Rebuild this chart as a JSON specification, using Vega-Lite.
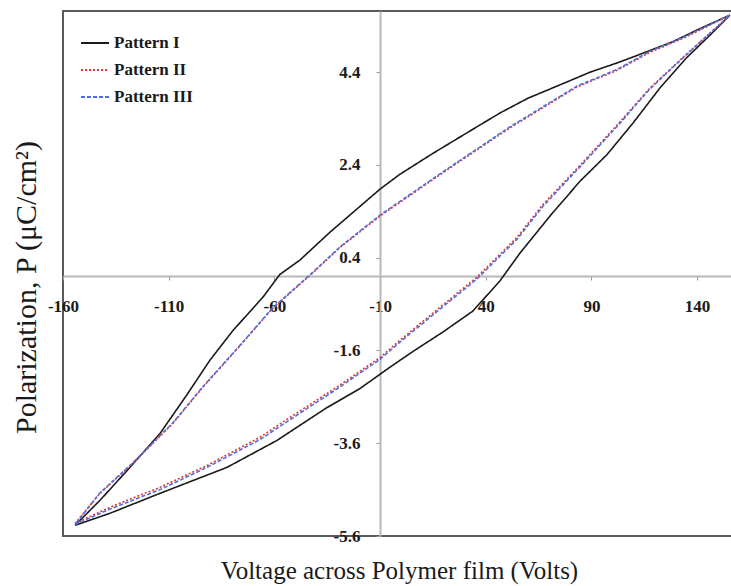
{
  "$schema": "https://vega.github.io/schema/vega-lite/v6.json",
  "width": 669,
  "height": 525,
  "autosize": {"type": "none"},
  "padding": {"left": 63, "top": 11, "right": 0, "bottom": 50},
  "background": "white",
  "config": {
    "font": "Liberation Serif",
    "view": {"stroke": "#5a5a5a", "strokeWidth": 2},
    "legend": {
      "orient": "none",
      "legendX": 17,
      "legendY": 17,
      "padding": 0,
      "labelFont": "Liberation Serif",
      "labelFontSize": 17,
      "labelFontWeight": "bold",
      "labelColor": "#1a1a1a",
      "labelOffset": 4,
      "symbolType": "stroke",
      "symbolSize": 784,
      "symbolStrokeWidth": 2,
      "rowPadding": 4
    }
  },
  "data": {
    "values": [
      {"series": "Pattern I", "i": 1, "voltage": -154.3, "polarization": -5.37},
      {"series": "Pattern I", "i": 2, "voltage": -137.8, "polarization": -5.11},
      {"series": "Pattern I", "i": 3, "voltage": -114.1, "polarization": -4.68},
      {"series": "Pattern I", "i": 4, "voltage": -82.4, "polarization": -4.12},
      {"series": "Pattern I", "i": 5, "voltage": -58.8, "polarization": -3.54},
      {"series": "Pattern I", "i": 6, "voltage": -35.1, "polarization": -2.83},
      {"series": "Pattern I", "i": 7, "voltage": -19.5, "polarization": -2.42},
      {"series": "Pattern I", "i": 8, "voltage": -5.3, "polarization": -1.96},
      {"series": "Pattern I", "i": 9, "voltage": 5.6, "polarization": -1.62},
      {"series": "Pattern I", "i": 10, "voltage": 19.8, "polarization": -1.2},
      {"series": "Pattern I", "i": 11, "voltage": 33.9, "polarization": -0.75},
      {"series": "Pattern I", "i": 12, "voltage": 46.7, "polarization": -0.1},
      {"series": "Pattern I", "i": 13, "voltage": 56.2, "polarization": 0.5},
      {"series": "Pattern I", "i": 14, "voltage": 70.4, "polarization": 1.3},
      {"series": "Pattern I", "i": 15, "voltage": 84.6, "polarization": 2.05},
      {"series": "Pattern I", "i": 16, "voltage": 97.3, "polarization": 2.62},
      {"series": "Pattern I", "i": 17, "voltage": 109.6, "polarization": 3.3},
      {"series": "Pattern I", "i": 18, "voltage": 122.4, "polarization": 4.06},
      {"series": "Pattern I", "i": 19, "voltage": 135.2, "polarization": 4.72},
      {"series": "Pattern I", "i": 20, "voltage": 146.1, "polarization": 5.2},
      {"series": "Pattern I", "i": 21, "voltage": 155.5, "polarization": 5.63},
      {"series": "Pattern I", "i": 22, "voltage": 141.3, "polarization": 5.34},
      {"series": "Pattern I", "i": 23, "voltage": 128.6, "polarization": 5.06},
      {"series": "Pattern I", "i": 24, "voltage": 111.5, "polarization": 4.76},
      {"series": "Pattern I", "i": 25, "voltage": 102.1, "polarization": 4.6},
      {"series": "Pattern I", "i": 26, "voltage": 89.3, "polarization": 4.4},
      {"series": "Pattern I", "i": 27, "voltage": 78.4, "polarization": 4.19},
      {"series": "Pattern I", "i": 28, "voltage": 60.0, "polarization": 3.84},
      {"series": "Pattern I", "i": 29, "voltage": 46.7, "polarization": 3.52},
      {"series": "Pattern I", "i": 30, "voltage": 33.9, "polarization": 3.17},
      {"series": "Pattern I", "i": 31, "voltage": 15.0, "polarization": 2.65},
      {"series": "Pattern I", "i": 32, "voltage": -0.6, "polarization": 2.2},
      {"series": "Pattern I", "i": 33, "voltage": -10.0, "polarization": 1.88},
      {"series": "Pattern I", "i": 34, "voltage": -33.7, "polarization": 0.95},
      {"series": "Pattern I", "i": 35, "voltage": -47.9, "polarization": 0.35},
      {"series": "Pattern I", "i": 36, "voltage": -57.4, "polarization": 0.04},
      {"series": "Pattern I", "i": 37, "voltage": -65.4, "polarization": -0.45},
      {"series": "Pattern I", "i": 38, "voltage": -79.6, "polarization": -1.17},
      {"series": "Pattern I", "i": 39, "voltage": -90.5, "polarization": -1.81},
      {"series": "Pattern I", "i": 40, "voltage": -101.3, "polarization": -2.55},
      {"series": "Pattern I", "i": 41, "voltage": -114.1, "polarization": -3.39},
      {"series": "Pattern I", "i": 42, "voltage": -129.7, "polarization": -4.19},
      {"series": "Pattern I", "i": 43, "voltage": -142.5, "polarization": -4.83},
      {"series": "Pattern I", "i": 44, "voltage": -154.3, "polarization": -5.37},

      {"series": "Pattern II", "i": 1, "voltage": -154.3, "polarization": -5.33},
      {"series": "Pattern II", "i": 2, "voltage": -137.8, "polarization": -4.98},
      {"series": "Pattern II", "i": 3, "voltage": -114.1, "polarization": -4.55},
      {"series": "Pattern II", "i": 4, "voltage": -91.9, "polarization": -4.08},
      {"series": "Pattern II", "i": 5, "voltage": -66.8, "polarization": -3.47},
      {"series": "Pattern II", "i": 6, "voltage": -51.2, "polarization": -3.0},
      {"series": "Pattern II", "i": 7, "voltage": -30.4, "polarization": -2.39},
      {"series": "Pattern II", "i": 8, "voltage": -10.0, "polarization": -1.75},
      {"series": "Pattern II", "i": 9, "voltage": -0.6, "polarization": -1.38},
      {"series": "Pattern II", "i": 10, "voltage": 18.3, "polarization": -0.67},
      {"series": "Pattern II", "i": 11, "voltage": 35.8, "polarization": -0.02},
      {"series": "Pattern II", "i": 12, "voltage": 54.8, "polarization": 0.84},
      {"series": "Pattern II", "i": 13, "voltage": 67.1, "polarization": 1.55},
      {"series": "Pattern II", "i": 14, "voltage": 86.0, "polarization": 2.46},
      {"series": "Pattern II", "i": 15, "voltage": 102.1, "polarization": 3.26},
      {"series": "Pattern II", "i": 16, "voltage": 117.7, "polarization": 4.06},
      {"series": "Pattern II", "i": 17, "voltage": 133.3, "polarization": 4.72},
      {"series": "Pattern II", "i": 18, "voltage": 155.5, "polarization": 5.63},
      {"series": "Pattern II", "i": 19, "voltage": 133.3, "polarization": 5.13},
      {"series": "Pattern II", "i": 20, "voltage": 117.7, "polarization": 4.83},
      {"series": "Pattern II", "i": 21, "voltage": 102.1, "polarization": 4.44},
      {"series": "Pattern II", "i": 22, "voltage": 83.1, "polarization": 4.08},
      {"series": "Pattern II", "i": 23, "voltage": 51.4, "polarization": 3.2},
      {"series": "Pattern II", "i": 24, "voltage": 21.6, "polarization": 2.29},
      {"series": "Pattern II", "i": 25, "voltage": -10.0, "polarization": 1.3},
      {"series": "Pattern II", "i": 26, "voltage": -29.0, "polarization": 0.62},
      {"series": "Pattern II", "i": 27, "voltage": -41.7, "polarization": 0.08},
      {"series": "Pattern II", "i": 28, "voltage": -61.0, "polarization": -0.7},
      {"series": "Pattern II", "i": 29, "voltage": -76.3, "polarization": -1.5},
      {"series": "Pattern II", "i": 30, "voltage": -93.8, "polarization": -2.39},
      {"series": "Pattern II", "i": 31, "voltage": -108.0, "polarization": -3.17},
      {"series": "Pattern II", "i": 32, "voltage": -126.9, "polarization": -4.03},
      {"series": "Pattern II", "i": 33, "voltage": -142.5, "polarization": -4.68},
      {"series": "Pattern II", "i": 34, "voltage": -154.3, "polarization": -5.33},

      {"series": "Pattern III", "i": 1, "voltage": -154.3, "polarization": -5.35},
      {"series": "Pattern III", "i": 2, "voltage": -137.8, "polarization": -5.02},
      {"series": "Pattern III", "i": 3, "voltage": -114.1, "polarization": -4.6},
      {"series": "Pattern III", "i": 4, "voltage": -91.9, "polarization": -4.12},
      {"series": "Pattern III", "i": 5, "voltage": -66.8, "polarization": -3.52},
      {"series": "Pattern III", "i": 6, "voltage": -51.2, "polarization": -3.05},
      {"series": "Pattern III", "i": 7, "voltage": -30.4, "polarization": -2.43},
      {"series": "Pattern III", "i": 8, "voltage": -10.0, "polarization": -1.79},
      {"series": "Pattern III", "i": 9, "voltage": -0.6, "polarization": -1.42},
      {"series": "Pattern III", "i": 10, "voltage": 18.3, "polarization": -0.71},
      {"series": "Pattern III", "i": 11, "voltage": 35.8, "polarization": -0.06},
      {"series": "Pattern III", "i": 12, "voltage": 54.8, "polarization": 0.8},
      {"series": "Pattern III", "i": 13, "voltage": 67.1, "polarization": 1.51},
      {"series": "Pattern III", "i": 14, "voltage": 86.0, "polarization": 2.43},
      {"series": "Pattern III", "i": 15, "voltage": 102.1, "polarization": 3.23},
      {"series": "Pattern III", "i": 16, "voltage": 117.7, "polarization": 4.04},
      {"series": "Pattern III", "i": 17, "voltage": 133.3, "polarization": 4.71},
      {"series": "Pattern III", "i": 18, "voltage": 155.5, "polarization": 5.63},
      {"series": "Pattern III", "i": 19, "voltage": 133.3, "polarization": 5.15},
      {"series": "Pattern III", "i": 20, "voltage": 117.7, "polarization": 4.85},
      {"series": "Pattern III", "i": 21, "voltage": 102.1, "polarization": 4.46},
      {"series": "Pattern III", "i": 22, "voltage": 83.1, "polarization": 4.1},
      {"series": "Pattern III", "i": 23, "voltage": 51.4, "polarization": 3.22},
      {"series": "Pattern III", "i": 24, "voltage": 21.6, "polarization": 2.31},
      {"series": "Pattern III", "i": 25, "voltage": -10.0, "polarization": 1.32},
      {"series": "Pattern III", "i": 26, "voltage": -29.0, "polarization": 0.63},
      {"series": "Pattern III", "i": 27, "voltage": -41.7, "polarization": 0.09},
      {"series": "Pattern III", "i": 28, "voltage": -61.0, "polarization": -0.69},
      {"series": "Pattern III", "i": 29, "voltage": -76.3, "polarization": -1.49},
      {"series": "Pattern III", "i": 30, "voltage": -93.8, "polarization": -2.38},
      {"series": "Pattern III", "i": 31, "voltage": -108.0, "polarization": -3.16},
      {"series": "Pattern III", "i": 32, "voltage": -126.9, "polarization": -4.02},
      {"series": "Pattern III", "i": 33, "voltage": -142.5, "polarization": -4.67},
      {"series": "Pattern III", "i": 34, "voltage": -154.3, "polarization": -5.35}
    ]
  },
  "mark": {"type": "line", "strokeWidth": 1.6, "clip": true},
  "encoding": {
    "x": {
      "field": "voltage",
      "type": "quantitative",
      "scale": {"domain": [-160, 156.5], "nice": false, "zero": false},
      "axis": {
        "title": "Voltage across Polymer film (Volts)",
        "values": [-160, -110, -60, -10, 40, 90, 140],
        "labelExpr": "(datum.value < 0 ? '-' : '') + abs(datum.value)",
        "offset": -260,
        "grid": false,
        "domainColor": "#b8b8b8",
        "domainWidth": 2,
        "tickColor": "#999999",
        "tickSize": 4,
        "tickWidth": 1,
        "labelFont": "Liberation Serif",
        "labelFontSize": 17,
        "labelFontWeight": "bold",
        "labelColor": "#1a1a1a",
        "labelPadding": 18,
        "labelFlush": false,
        "labelOverlap": false,
        "titleFont": "Liberation Serif",
        "titleFontSize": 25,
        "titleFontWeight": "normal",
        "titleColor": "#1a1a1a",
        "titleX": 336,
        "titleY": 294,
        "titleBaseline": "middle",
        "titleAlign": "center"
      }
    },
    "y": {
      "field": "polarization",
      "type": "quantitative",
      "scale": {"domain": [-5.6, 5.72], "nice": false, "zero": false},
      "axis": {
        "title": "Polarization, P (μC/cm²)",
        "values": [-5.6, -3.6, -1.6, 0.4, 2.4, 4.4],
        "labelExpr": "(datum.value < 0 ? '-' : '') + format(abs(datum.value), '.1f')",
        "offset": -317,
        "grid": false,
        "domainColor": "#b8b8b8",
        "domainWidth": 2,
        "tickColor": "#999999",
        "tickSize": 4,
        "tickWidth": 1,
        "labelFont": "Liberation Serif",
        "labelFontSize": 17,
        "labelFontWeight": "bold",
        "labelColor": "#1a1a1a",
        "labelPadding": 16,
        "labelOverlap": false,
        "titleFont": "Liberation Serif",
        "titleFontSize": 30,
        "titleFontWeight": "normal",
        "titleColor": "#1a1a1a",
        "titleX": -354,
        "titleY": 276,
        "titleBaseline": "middle",
        "titleAlign": "center",
        "titleAngle": -90
      }
    },
    "order": {"field": "i", "type": "quantitative"},
    "color": {
      "field": "series",
      "type": "nominal",
      "title": null,
      "scale": {"domain": ["Pattern I", "Pattern II", "Pattern III"], "range": ["#1a1a1a", "#e3342f", "#4e6fdc"]}
    },
    "strokeDash": {
      "field": "series",
      "type": "nominal",
      "title": null,
      "scale": {"domain": ["Pattern I", "Pattern II", "Pattern III"], "range": [[1, 0], [2, 2], [4, 2]]}
    }
  }
}
